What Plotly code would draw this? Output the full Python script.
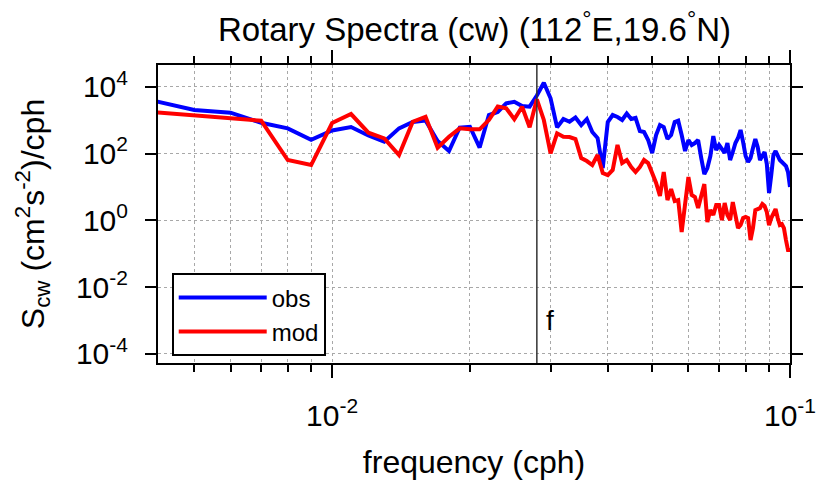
import math
import plotly.graph_objects as go

# frequency grid (cph)
freq = [0.004, 0.005, 0.006, 0.007, 0.008, 0.009, 0.010, 0.011, 0.012, 0.013,
        0.014, 0.015, 0.016, 0.017, 0.018, 0.019, 0.020, 0.021, 0.022, 0.023,
        0.024, 0.025, 0.026, 0.027, 0.028, 0.029, 0.030, 0.031, 0.032, 0.033,
        0.034, 0.035, 0.036, 0.037, 0.038, 0.039, 0.040, 0.041, 0.042, 0.043,
        0.044, 0.045, 0.046, 0.047, 0.048, 0.049, 0.050, 0.051, 0.052, 0.053,
        0.054, 0.055, 0.056, 0.057, 0.058, 0.059, 0.060, 0.061, 0.062, 0.063,
        0.064, 0.065, 0.066, 0.067, 0.068, 0.069, 0.070, 0.071, 0.072, 0.073,
        0.074, 0.075, 0.076, 0.077, 0.078, 0.079, 0.080, 0.081, 0.082, 0.083,
        0.084, 0.085, 0.086, 0.087, 0.088, 0.089, 0.090, 0.091, 0.092, 0.093,
        0.094, 0.095, 0.096, 0.097, 0.098, 0.099, 0.100]

obs = [4030, 2000, 1670, 836, 568, 259, 489, 621, 346, 225,
       568, 877, 973, 237, 119, 600, 634, 151, 1420, 1750,
       3180, 3550, 2640, 2520, 5450, 13200, 4500, 608, 1080, 895,
       1200, 713, 1080, 440, 291, 36.8, 877, 1420, 1240, 1010,
       1580, 1080, 1160, 472, 440, 254, 104, 358, 713, 621,
       272, 358, 877, 960, 358, 119, 254, 180, 206, 254,
       73.3, 24.3, 36.8, 84.1, 334, 127, 180, 136, 104, 206,
       63.9, 111, 206, 291, 506, 221, 84.1, 55.7, 73.3, 146,
       272, 157, 63.9, 84.1, 111, 48.5, 6.56, 22.7, 90.2, 119,
       84.1, 63.9, 55.7, 48.5, 42.3, 27.9, 9.93]

mod = [1780, 1420, 1130, 960, 63.9, 45.3, 819, 1520, 420, 285,
       90.2, 895, 1260, 149, 318, 568, 531, 531, 1010, 2550,
       2260, 1060, 2520, 608, 4200, 1010, 101, 403, 318, 312,
       272, 73.3, 59.6, 45.3, 90.2, 26.1, 22.7, 32.1, 180, 52,
       63.9, 39.4, 27.9, 39.4, 63.9, 52, 26.1, 13.1, 5.34, 27.9,
       4.06, 8.65, 3.78, 4.06, 0.446, 2.87, 19.8, 5.71, 4.99, 2.33,
       5.71, 12.2, 0.889, 2.03, 1.44, 2.87, 2.87, 1.02, 3.30, 1.44,
       1.02, 3.53, 1.44, 0.588, 0.723, 1.17, 1.26, 1.17, 0.257, 0.588,
       2.03, 2.18, 2.33, 3.08, 2.68, 1.77, 0.723, 1.17, 1.77, 2.18,
       1.17, 0.723, 0.774, 0.588, 0.257, 0.129, 0.129]

f_inertial = 0.028

x_major = [0.01, 0.1]
x_major_text = ['10<sup>-2</sup>', '10<sup>-1</sup>']
x_minor = [0.005, 0.006, 0.007, 0.008, 0.009,
           0.02, 0.03, 0.04, 0.05, 0.06, 0.07, 0.08, 0.09]
y_ticks = [1e-4, 1e-2, 1, 1e2, 1e4]
y_text = ['10<sup>-4</sup>', '10<sup>-2</sup>', '10<sup>0</sup>',
          '10<sup>2</sup>', '10<sup>4</sup>']

FONT = 'Liberation Sans, Arial, Helvetica, sans-serif'
FS_TICK = 30
FS_TITLE = 33
FS_AX = 32
FS_LEG = 24
GRID = '#a8a8a8'

fig = go.Figure()
fig.add_trace(go.Scatter(x=freq, y=obs, mode='lines', name='obs',
                         line=dict(color='#0000ff', width=4)))
fig.add_trace(go.Scatter(x=freq, y=mod, mode='lines', name='mod',
                         line=dict(color='#ff0000', width=4)))
fig.add_trace(go.Scatter(x=[f_inertial, f_inertial], y=[1e-6, 1e6], mode='lines',
                         showlegend=False, hoverinfo='skip',
                         line=dict(color='#333333', width=1.5)))

fig.add_annotation(x=math.log10(f_inertial), xref='x', y=0.085, yref='paper',
                   text='f', showarrow=False, xanchor='left', xshift=7,
                   font=dict(size=28, family=FONT, color='black'))

fig.update_layout(
    width=818, height=486,
    margin=dict(l=158, r=28, t=65, b=123, autoexpand=False),
    paper_bgcolor='white', plot_bgcolor='white',
    font=dict(family=FONT, size=FS_TICK, color='black'),
    title=dict(text='Rotary Spectra (cw) (112<sup>°</sup>E,19.6<sup>°</sup>N)',
               x=0.58, xanchor='center', y=0.94, yanchor='middle',
               font=dict(size=FS_TITLE, family=FONT, color='black')),
    showlegend=True,
    legend=dict(x=0.0217, y=0.301, xanchor='left', yanchor='top',
                bgcolor='white', bordercolor='black', borderwidth=2,
                font=dict(size=FS_LEG, family=FONT, color='black'),
                itemwidth=88, tracegroupgap=0),
    xaxis=dict(type='log', range=[math.log10(1 / 240), -1], automargin=False,
               tickvals=x_major, ticktext=x_major_text,
               ticks='outside', ticklen=13, tickwidth=2, tickcolor='black',
               showline=True, linewidth=2, linecolor='black', mirror='ticks',
               showgrid=True, gridcolor=GRID, gridwidth=1, griddash='dot',
               ticklabelstandoff=12, tickfont=dict(size=FS_TICK),
               minor=dict(tickvals=x_minor, ticks='outside', ticklen=7,
                          tickwidth=2, tickcolor='black', showgrid=True,
                          gridcolor=GRID, gridwidth=1, griddash='dot'),
               title=dict(text='frequency (cph)', standoff=20,
                          font=dict(size=FS_AX, family=FONT, color='black'))),
    yaxis=dict(type='log', range=[-4.27, 4.65], automargin=False,
               tickvals=y_ticks, ticktext=y_text,
               ticks='outside', ticklen=11, tickwidth=2, tickcolor='black',
               showline=True, linewidth=2, linecolor='black', mirror='ticks',
               showgrid=True, gridcolor=GRID, gridwidth=1, griddash='dot',
               ticklabelstandoff=11, tickfont=dict(size=FS_TICK),
               title=dict(text='S<sub>cw</sub> (cm<sup>2</sup>s<sup>-2</sup>)/cph',
                          standoff=22,
                          font=dict(size=FS_AX, family=FONT, color='black'))),
)

fig.write_html('out.html')
